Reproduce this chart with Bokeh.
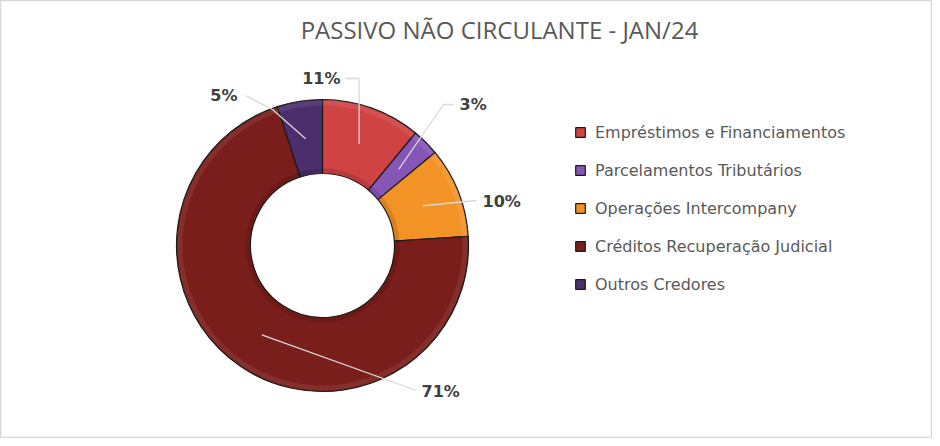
import math
from bokeh.plotting import figure
from bokeh.models import Range1d, Legend, LegendItem, ColumnDataSource, Label
from bokeh.embed import file_html
from bokeh.resources import INLINE

# ---- data ----
categories = ["Empréstimos e Financiamentos", "Parcelamentos Tributários",
              "Operações Intercompany", "Créditos Recuperação Judicial", "Outros Credores"]
shares = [11, 3, 10, 71, 5]
pct_labels = ["11%", "3%", "10%", "71%", "5%"]
colors = ["#d04343", "#8656b6", "#f39326", "#7a1e1b", "#4c2e6c"]
title_text = "PASSIVO NÃO CIRCULANTE - JAN/24"

# ---- layout ----
W, H = 932, 438
CX, CY = 322, 193          # donut centre (data units = pixels)
R_OUT, R_IN = 146, 72
R_LEAD = 108
# label layout offsets from centre (x right, y up)
label_layout = [
    dict(lab=(18, 167), align="right", elbow=None, end=(23, 167), vertical=True),
    dict(lab=(137, 141), align="left", elbow=(121, 141), end=(131, 141)),
    dict(lab=(160, 44), align="left", elbow=None, end=(154, 45)),
    dict(lab=(99, -146), align="left", elbow=None, end=(94, -145)),
    dict(lab=(-85, 150), align="right", elbow=(-50, 136), end=(-77, 150)),
]

p = figure(width=W, height=H, x_range=Range1d(0, W), y_range=Range1d(0, H),
           output_backend="svg", toolbar_location=None, min_border=0,
           background_fill_color="white", border_fill_color="white")
p.axis.visible = False
p.xgrid.visible = False
p.ygrid.visible = False
p.outline_line_color = "#d9d9d9"
p.outline_line_width = 1.5

total = float(sum(shares))
starts, ends, mids = [], [], []
cum = 0.0
for s in shares:
    a0 = math.pi / 2 - 2 * math.pi * cum / total
    cum += s
    a1 = math.pi / 2 - 2 * math.pi * cum / total
    starts.append(a0)
    ends.append(a1)
    mids.append((a0 + a1) / 2)

src = ColumnDataSource(dict(x=[CX] * len(shares), y=[CY] * len(shares),
                            start=starts, end=ends, color=colors, cat=categories))
wedges = p.annular_wedge(x="x", y="y", inner_radius=R_IN, outer_radius=R_OUT,
                         start_angle="start", end_angle="end", direction="clock",
                         fill_color="color", line_color="#1a1a1a", line_width=1.2,
                         source=src)
# subtle bevel shading
p.annular_wedge(x="x", y="y", inner_radius=R_OUT - 6, outer_radius=R_OUT - 1,
                start_angle="start", end_angle="end", direction="clock",
                fill_color="white", fill_alpha=0.08, line_color=None, source=src)
p.annular_wedge(x="x", y="y", inner_radius=R_IN + 1, outer_radius=R_IN + 5,
                start_angle="start", end_angle="end", direction="clock",
                fill_color="black", fill_alpha=0.12, line_color=None, source=src)

# leader lines and labels
xs, ys = [], []
for m, lay in zip(mids, label_layout):
    ix = CX + R_LEAD * math.cos(m)
    iy = CY + R_LEAD * math.sin(m)
    lx, ly = [ix], [iy]
    if lay.get("vertical"):
        lx.append(ix); ly.append(CY + lay["end"][1])
    if lay.get("elbow"):
        lx.append(CX + lay["elbow"][0]); ly.append(CY + lay["elbow"][1])
    lx.append(CX + lay["end"][0]); ly.append(CY + lay["end"][1])
    xs.append(lx); ys.append(ly)
p.multi_line(xs=xs, ys=ys, line_color="#d9d9d9", line_width=1.3)

for txt, lay in zip(pct_labels, label_layout):
    p.add_layout(Label(x=CX + lay["lab"][0], y=CY + lay["lab"][1], text=txt,
                       text_align=lay["align"], text_baseline="middle",
                       text_font="DejaVu Sans", text_font_style="bold",
                       text_font_size="16px", text_color="#404040"))

# title
p.add_layout(Label(x=499, y=409, text=title_text, text_align="center",
                   text_baseline="middle", text_font="Open Sans",
                   text_font_size="24px", text_color="#595959"))

legend = Legend(items=[LegendItem(label=c, renderers=[wedges], index=i)
                       for i, c in enumerate(categories)],
                location=(574, 144), orientation="vertical",
                glyph_width=12, glyph_height=12, label_height=20,
                spacing=18, label_standoff=9, padding=0, margin=0,
                label_text_font="DejaVu Sans", label_text_font_size="16px",
                label_text_color="#595959",
                border_line_alpha=0, background_fill_alpha=0)
p.add_layout(legend)

open("out.html", "w").write(file_html(p, INLINE))
